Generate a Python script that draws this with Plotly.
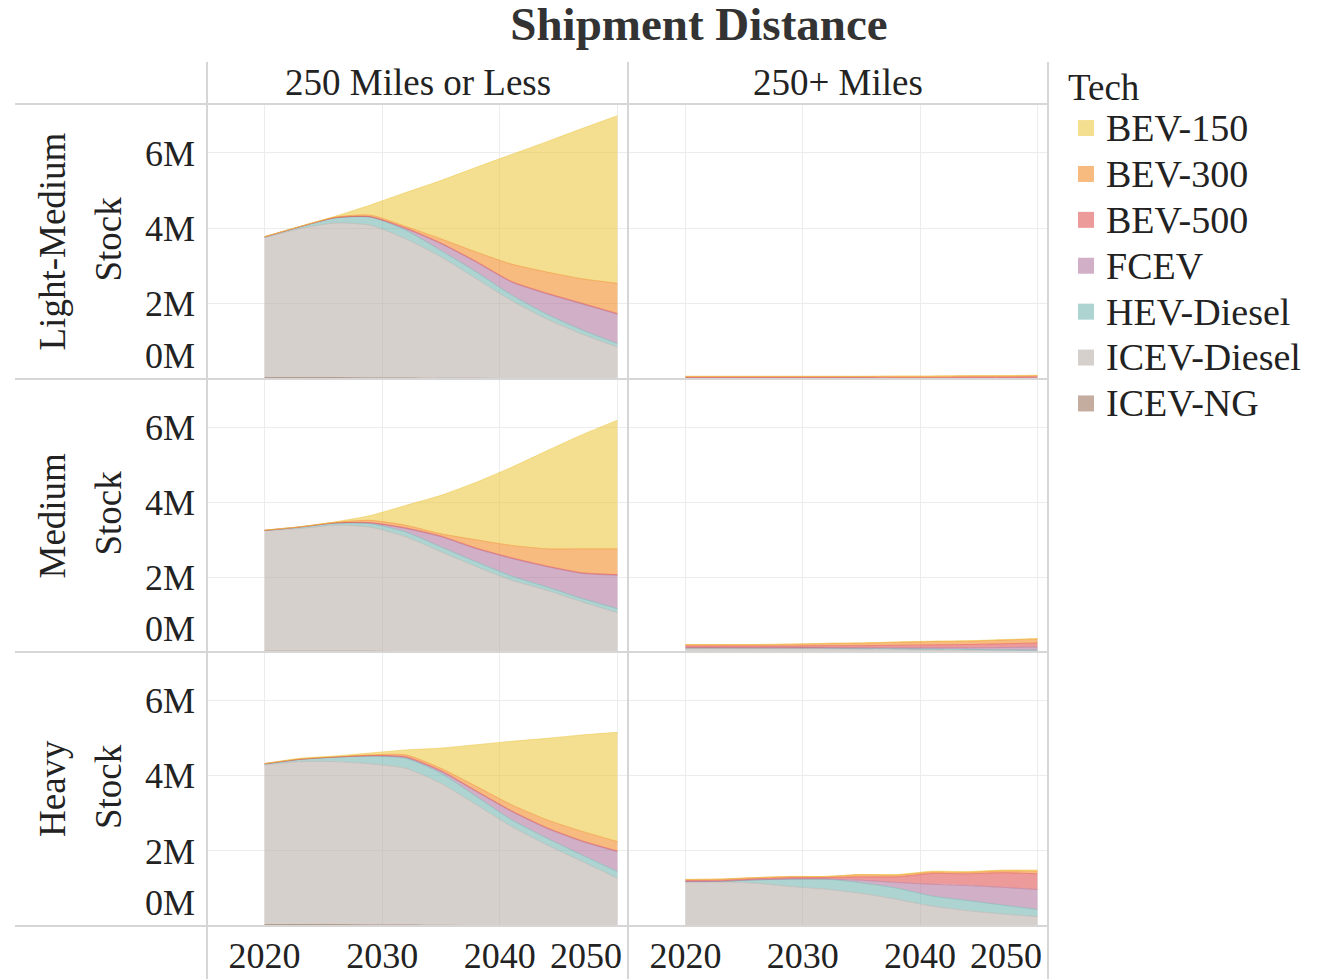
import plotly.graph_objects as go
from plotly.subplots import make_subplots

# ---------------- data (stock, millions of vehicles) ----------------
YEARS = [2020, 2023, 2026, 2029, 2032, 2035, 2038, 2041, 2044, 2047, 2050]
TECHS = ["BEV-150", "BEV-300", "BEV-500", "FCEV", "HEV-Diesel", "ICEV-Diesel", "ICEV-NG"]
ROW_LABELS = ["Light-Medium", "Medium", "Heavy"]
COL_LABELS = ["250 Miles or Less", "250+ Miles"]
Y_TICKS = [0, 2, 4, 6]
X_TICKS = [2020, 2030, 2040, 2050]

LIGHT_MEDIUM_SHORT = {
    "BEV-150":     [0.00, 0.00, 0.02, 0.27, 0.90, 1.55, 2.25, 2.91, 3.46, 3.99, 4.45],
    "BEV-300":     [0.01, 0.01, 0.02, 0.04, 0.04, 0.11, 0.25, 0.46, 0.56, 0.65, 0.80],
    "BEV-500":     [0.00, 0.00, 0.00, 0.01, 0.02, 0.02, 0.02, 0.02, 0.02, 0.02, 0.02],
    "FCEV":        [0.00, 0.00, 0.00, 0.00, 0.04, 0.18, 0.26, 0.34, 0.54, 0.69, 0.78],
    "HEV-Diesel":  [0.02, 0.05, 0.14, 0.22, 0.23, 0.17, 0.18, 0.15, 0.13, 0.11, 0.09],
    "ICEV-Diesel": [3.71, 3.95, 4.10, 4.05, 3.69, 3.22, 2.64, 2.07, 1.58, 1.19, 0.85],
    "ICEV-NG":     [0.04, 0.04, 0.04, 0.03, 0.03, 0.02, 0.02, 0.01, 0.01, 0.00, 0.00],
}
LIGHT_MEDIUM_LONG = {
    "BEV-150":     [0.00, 0.00, 0.00, 0.00, 0.00, 0.00, 0.01, 0.01, 0.01, 0.01, 0.01],
    "BEV-300":     [0.02, 0.02, 0.02, 0.02, 0.02, 0.02, 0.03, 0.03, 0.03, 0.03, 0.03],
    "BEV-500":     [0.03, 0.03, 0.03, 0.03, 0.03, 0.03, 0.03, 0.03, 0.03, 0.03, 0.03],
    "FCEV":        [0.00, 0.00, 0.00, 0.00, 0.00, 0.00, 0.00, 0.00, 0.01, 0.01, 0.02],
    "HEV-Diesel":  [0.00, 0.00, 0.00, 0.00, 0.00, 0.00, 0.00, 0.00, 0.00, 0.00, 0.00],
    "ICEV-Diesel": [0.02, 0.02, 0.02, 0.02, 0.02, 0.02, 0.01, 0.01, 0.01, 0.01, 0.01],
    "ICEV-NG":     [0.00, 0.00, 0.00, 0.00, 0.00, 0.00, 0.00, 0.00, 0.00, 0.00, 0.00],
}
MEDIUM_SHORT = {
    "BEV-150":     [0.00, 0.00, 0.01, 0.13, 0.53, 1.03, 1.54, 2.09, 2.62, 3.05, 3.44],
    "BEV-300":     [0.01, 0.01, 0.02, 0.06, 0.07, 0.06, 0.22, 0.33, 0.46, 0.64, 0.69],
    "BEV-500":     [0.00, 0.00, 0.00, 0.01, 0.02, 0.02, 0.02, 0.02, 0.02, 0.02, 0.02],
    "FCEV":        [0.00, 0.00, 0.00, 0.02, 0.09, 0.27, 0.35, 0.47, 0.54, 0.67, 0.89],
    "HEV-Diesel":  [0.01, 0.04, 0.06, 0.09, 0.13, 0.13, 0.13, 0.11, 0.09, 0.09, 0.11],
    "ICEV-Diesel": [3.22, 3.28, 3.37, 3.32, 3.07, 2.67, 2.27, 1.91, 1.64, 1.33, 1.04],
    "ICEV-NG":     [0.02, 0.02, 0.02, 0.02, 0.01, 0.01, 0.01, 0.01, 0.01, 0.01, 0.01],
}
MEDIUM_LONG = {
    "BEV-150":     [0.00, 0.00, 0.00, 0.00, 0.00, 0.00, 0.01, 0.01, 0.01, 0.01, 0.01],
    "BEV-300":     [0.04, 0.04, 0.04, 0.05, 0.06, 0.07, 0.08, 0.09, 0.09, 0.10, 0.11],
    "BEV-500":     [0.05, 0.05, 0.05, 0.05, 0.06, 0.06, 0.07, 0.08, 0.09, 0.10, 0.11],
    "FCEV":        [0.00, 0.00, 0.00, 0.00, 0.00, 0.01, 0.02, 0.03, 0.04, 0.06, 0.08],
    "HEV-Diesel":  [0.00, 0.00, 0.01, 0.01, 0.02, 0.02, 0.02, 0.02, 0.02, 0.02, 0.02],
    "ICEV-Diesel": [0.11, 0.11, 0.10, 0.10, 0.09, 0.08, 0.07, 0.06, 0.05, 0.04, 0.03],
    "ICEV-NG":     [0.00, 0.00, 0.00, 0.00, 0.00, 0.00, 0.00, 0.00, 0.00, 0.00, 0.00],
}
HEAVY_SHORT = {
    "BEV-150":     [0.00, 0.02, 0.02, 0.05, 0.13, 0.54, 1.11, 1.69, 2.17, 2.57, 2.91],
    "BEV-300":     [0.01, 0.01, 0.01, 0.02, 0.05, 0.06, 0.12, 0.16, 0.21, 0.25, 0.25],
    "BEV-500":     [0.00, 0.00, 0.00, 0.01, 0.02, 0.02, 0.02, 0.02, 0.02, 0.02, 0.02],
    "FCEV":        [0.00, 0.00, 0.00, 0.00, 0.02, 0.05, 0.13, 0.22, 0.26, 0.36, 0.53],
    "HEV-Diesel":  [0.03, 0.06, 0.12, 0.21, 0.27, 0.27, 0.22, 0.18, 0.18, 0.17, 0.18],
    "ICEV-Diesel": [4.25, 4.34, 4.34, 4.29, 4.17, 3.78, 3.22, 2.65, 2.16, 1.72, 1.27],
    "ICEV-NG":     [0.04, 0.04, 0.04, 0.03, 0.03, 0.02, 0.01, 0.00, 0.00, 0.00, 0.00],
}
HEAVY_LONG = {
    "BEV-150":     [0.00, 0.00, 0.00, 0.00, 0.00, 0.00, 0.01, 0.02, 0.02, 0.02, 0.03],
    "BEV-300":     [0.03, 0.03, 0.03, 0.03, 0.03, 0.06, 0.05, 0.04, 0.04, 0.05, 0.07],
    "BEV-500":     [0.03, 0.03, 0.03, 0.04, 0.04, 0.09, 0.15, 0.29, 0.31, 0.39, 0.42],
    "FCEV":        [0.00, 0.00, 0.00, 0.00, 0.00, 0.07, 0.15, 0.31, 0.40, 0.47, 0.53],
    "HEV-Diesel":  [0.00, 0.02, 0.09, 0.20, 0.27, 0.28, 0.30, 0.27, 0.27, 0.24, 0.19],
    "ICEV-Diesel": [1.18, 1.17, 1.14, 1.05, 0.98, 0.87, 0.71, 0.53, 0.41, 0.32, 0.25],
    "ICEV-NG":     [0.00, 0.00, 0.00, 0.00, 0.00, 0.00, 0.00, 0.00, 0.00, 0.00, 0.00],
}

PANELS = {
    (1, 1): LIGHT_MEDIUM_SHORT, (1, 2): LIGHT_MEDIUM_LONG,
    (2, 1): MEDIUM_SHORT,       (2, 2): MEDIUM_LONG,
    (3, 1): HEAVY_SHORT,        (3, 2): HEAVY_LONG,
}

# ---------------- styling ----------------
BASE_RGB = {
    "BEV-150": (237, 201, 72),
    "BEV-300": (242, 142, 43),
    "BEV-500": (225, 87, 89),
    "FCEV": (176, 122, 161),
    "HEV-Diesel": (118, 183, 178),
    "ICEV-Diesel": (186, 176, 172),
    "ICEV-NG": (156, 117, 95),
}


def rgba(rgb, a):
    return "rgba(%d,%d,%d,%.2f)" % (rgb[0], rgb[1], rgb[2], a)


def blend(rgb, a):
    return "rgb(%d,%d,%d)" % tuple(round(a * c + (1 - a) * 255) for c in rgb)


W, H = 1337, 979
FONT = "Liberation Serif"
TXT = "#222222"
SEP = "#d6d6d6"
GRID = "#ececec"
NBSP = "\u00a0"

X_DOM = {1: [207 / W, 628 / W], 2: [628 / W, 1048 / W]}
Y_DOM = {1: [1 - 379 / H, 1 - 104 / H], 2: [1 - 652 / H, 1 - 379 / H], 3: [1 - 926 / H, 1 - 652 / H]}

# tick labels: last year label kept inside its pane, zero label lifted off the pane border
X_TICKTEXT = [str(v) for v in X_TICKS[:-1]] + [str(X_TICKS[-1]) + NBSP * 7]
Y_TICKTEXT = ["%dM<br>%s" % (Y_TICKS[0], NBSP)] + ["%dM" % v for v in Y_TICKS[1:]]

fig = make_subplots(rows=3, cols=2, horizontal_spacing=0, vertical_spacing=0)

for (r, c), data in PANELS.items():
    for tech in reversed(TECHS):  # bottom of stack first
        fig.add_trace(
            go.Scatter(
                x=YEARS, y=data[tech], name=tech, legendgroup=tech,
                stackgroup="s%d%d" % (r, c), mode="lines",
                line=dict(width=1, color=rgba(BASE_RGB[tech], 0.55), shape="spline", smoothing=0.6),
                fillcolor=rgba(BASE_RGB[tech], 0.6),
                showlegend=False, hoverinfo="skip",
            ),
            row=r, col=c,
        )

# legend entries (square swatches)
for tech in TECHS:
    fig.add_trace(
        go.Scatter(
            x=[None], y=[None], mode="markers",
            name='<span style="font-size:38px">%s</span>' % tech, legendgroup=tech,
            marker=dict(symbol="square", size=16, color=blend(BASE_RGB[tech], 0.6)),
            showlegend=True,
        ),
        row=1, col=1,
    )

for r in (1, 2, 3):
    for c in (1, 2):
        fig.update_xaxes(
            domain=X_DOM[c], range=[2015.1, 2050.9], tickvals=X_TICKS, ticktext=X_TICKTEXT,
            showticklabels=(r == 3), showgrid=True, gridcolor=GRID, gridwidth=1,
            zeroline=False, showline=False, ticks="", ticklabelstandoff=5, automargin=False,
            tickfont=dict(family=FONT, size=36, color=TXT),
            row=r, col=c,
        )
        fig.update_yaxes(
            domain=Y_DOM[r], range=[0, 7.3], tickvals=Y_TICKS, ticktext=Y_TICKTEXT,
            showticklabels=(c == 1), showgrid=True, gridcolor=GRID, gridwidth=1,
            zeroline=False, showline=False, ticks="", ticklabelstandoff=11, automargin=False,
            tickfont=dict(family=FONT, size=36, color=TXT),
            row=r, col=c,
        )

# separator lines
shapes = []
for yy in (104, 379, 652, 926):
    shapes.append(dict(type="line", xref="paper", yref="paper", x0=15 / W, x1=1048 / W,
                       y0=1 - yy / H, y1=1 - yy / H, line=dict(color=SEP, width=2)))
for xx in (207, 628, 1048):
    shapes.append(dict(type="line", xref="paper", yref="paper", x0=xx / W, x1=xx / W,
                       y0=0, y1=1 - 62 / H, line=dict(color=SEP, width=2)))

annotations = []
col_centers = {1: (207 + 628) / 2, 2: (628 + 1048) / 2}
for c, label in zip((1, 2), COL_LABELS):
    annotations.append(dict(text=label, xref="paper", yref="paper", x=col_centers[c] / W, y=1 - 82 / H,
                            xanchor="center", yanchor="middle", showarrow=False,
                            font=dict(family=FONT, size=37, color=TXT)))
row_centers = {1: (104 + 379) / 2, 2: (379 + 652) / 2, 3: (652 + 926) / 2}
for r, label in zip((1, 2, 3), ROW_LABELS):
    annotations.append(dict(text=label, xref="paper", yref="paper", x=52 / W, y=1 - row_centers[r] / H,
                            xanchor="center", yanchor="middle", textangle=-90, showarrow=False,
                            font=dict(family=FONT, size=37, color=TXT)))
    annotations.append(dict(text="Stock", xref="paper", yref="paper", x=108 / W, y=1 - (row_centers[r] - 2) / H,
                            xanchor="center", yanchor="middle", textangle=-90, showarrow=False,
                            font=dict(family=FONT, size=37, color=TXT)))

fig.update_layout(
    width=W, height=H, autosize=False,
    margin=dict(l=0, r=0, t=0, b=0, autoexpand=False),
    paper_bgcolor="white", plot_bgcolor="white",
    font=dict(family=FONT, size=36, color=TXT),
    title=dict(text="<b>Shipment Distance</b>", x=699 / W, y=1 - 24 / H, xanchor="center", yanchor="middle",
               font=dict(family=FONT, size=47, color="#333333")),
    legend=dict(title=dict(text="Tech", font=dict(family=FONT, size=37, color=TXT)),
                x=1066 / W, y=1 - 52 / H, xanchor="left", yanchor="top",
                font=dict(family=FONT, size=33, color=TXT), bgcolor="rgba(0,0,0,0)",
                traceorder="normal", tracegroupgap=0, itemclick=False),
    shapes=shapes, annotations=annotations,
    hovermode=False,
)

fig.write_html(
    "out.html",
    config={"displayModeBar": False},
    post_script="document.body.style.margin='0px';document.documentElement.style.overflow='hidden';",
)
